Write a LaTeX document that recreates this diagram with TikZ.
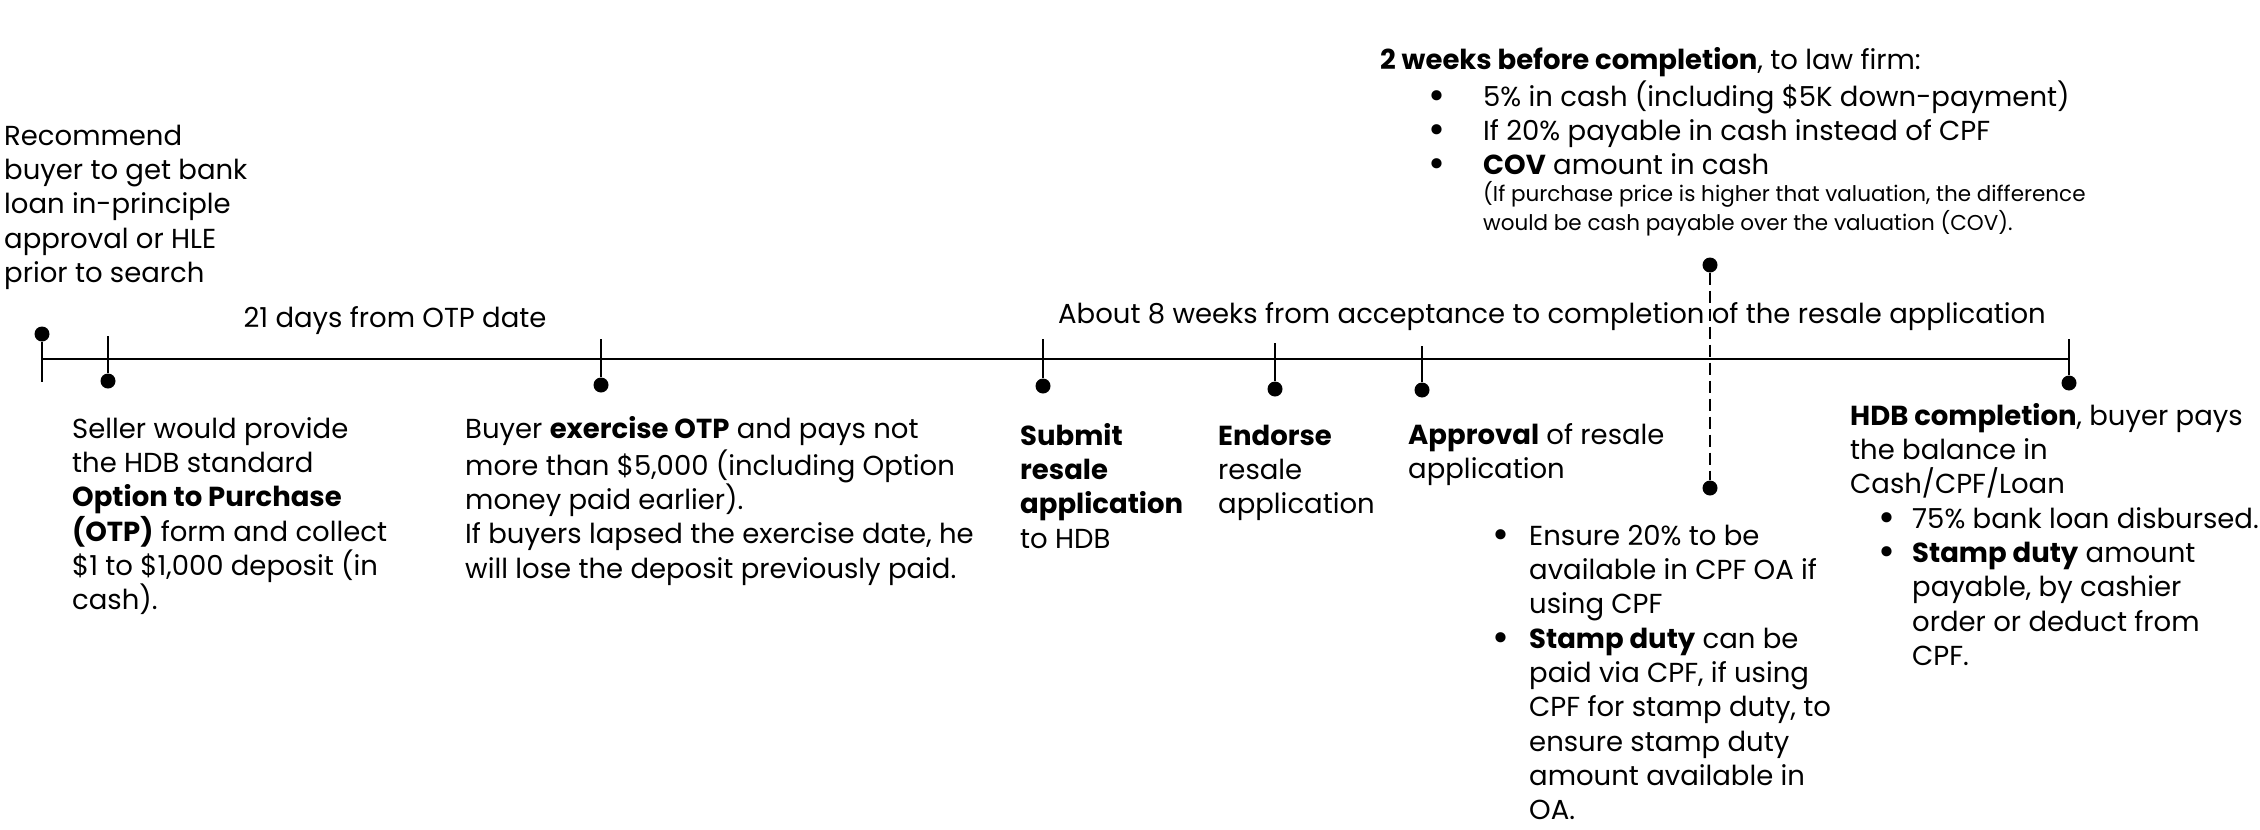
\documentclass[tikz,border=0pt]{standalone}
\usepackage{fontspec}
\usepackage{graphicx}
\setmainfont{Poppins}
\newcommand\bigtxt{\fontsize{27.5pt}{34.3pt}\selectfont}
\newcommand\smalltxt{\fontsize{21.5pt}{27pt}\selectfont}
\newcommand\bul[1]{\makebox[#1][l]{\raisebox{-3pt}{\scalebox{1.5}{\textbullet}}}}
\begin{document}
\begin{tikzpicture}[x=1pt,y=-1pt,
  dot/.style={circle,fill=black,inner sep=0pt,minimum size=15pt},
  stem/.style={line width=2pt},
  axis/.style={line width=2.4pt},
  dashline/.style={line width=2pt,dash pattern=on 12pt off 6pt},
  txt/.style={anchor=north west,inner sep=0pt,align=left,font=\bigtxt},
  lbl/.style={anchor=base,inner sep=0pt,font=\bigtxt},
  small/.style={anchor=north west,inner sep=0pt,align=left,font=\smalltxt}]
\useasboundingbox (0,0) rectangle (2260,830);

% main axis
\coordinate (L0) at (42,359);
\coordinate (L1) at (2069,359);
\draw[axis] (L0) -- (L1);

% stems
\node[dot] (d1) at (42,334) {};
\coordinate (e1) at (42,382);
\draw[stem] (d1) -- (e1);

\coordinate (t2) at (108,336);
\node[dot] (d2) at (108,381) {};
\draw[stem] (t2) -- (d2);

\coordinate (t3) at (601,339);
\node[dot] (d3) at (601,385) {};
\draw[stem] (t3) -- (d3);

\coordinate (t4) at (1043,339);
\node[dot] (d4) at (1043,386) {};
\draw[stem] (t4) -- (d4);

\coordinate (t5) at (1275,343);
\node[dot] (d5) at (1275,389) {};
\draw[stem] (t5) -- (d5);

\coordinate (t6) at (1422,346);
\node[dot] (d6) at (1422,390) {};
\draw[stem] (t6) -- (d6);

\node[dot] (d7a) at (1710,265) {};
\node[dot] (d7b) at (1710,488) {};
\draw[dashline] (d7a) -- (d7b);

\coordinate (t8) at (2069,339);
\node[dot] (d8) at (2069,383) {};
\draw[stem] (t8) -- (d8);

% labels
\node[txt] (rec) at (4,121) {\strut Recommend\\buyer to get bank\\loan in-principle\\approval or HLE\\prior to search};
\node[lbl] (days) at (395,327) {21 days from OTP date};
\node[lbl] (weeks) at (1552,323) {About 8 weeks from acceptance to completion of the resale application};

\node[txt] (seller) at (72,414) {\strut Seller would provide\\the HDB standard\\\textbf{Option to Purchase}\\\textbf{(OTP)} form and collect\\\$1 to \$1,000 deposit (in\\cash).};
\node[txt] (buyer) at (465,414) {\strut Buyer \textbf{exercise OTP} and pays not\\more than \$5,000 (including Option\\money paid earlier).\\If buyers lapsed the exercise date, he\\will lose the deposit previously paid.};
\node[txt] (submit) at (1020,421) {\strut\textbf{Submit}\\\textbf{resale}\\\textbf{application}\\to HDB};
\node[txt] (endorse) at (1218,421) {\strut\textbf{Endorse}\\resale\\application};
\node[txt] (approval) at (1408,420) {\strut\textbf{Approval} of resale\\application};
\node[txt] (apbul) at (1492,521) {\strut\bul{37pt}Ensure 20\% to be\\\hspace*{37pt}available in CPF OA if\\\hspace*{37pt}using CPF\\\bul{37pt}\textbf{Stamp duty} can be\\\hspace*{37pt}paid via CPF, if using\\\hspace*{37pt}CPF for stamp duty, to\\\hspace*{37pt}ensure stamp duty\\\hspace*{37pt}amount available in\\\hspace*{37pt}OA.};
\node[txt] (hdb) at (1850,401) {\strut\textbf{HDB completion}, buyer pays\\the balance in\\Cash/CPF/Loan\\\hspace*{28pt}\bul{34pt}75\% bank loan disbursed.\\\hspace*{28pt}\bul{34pt}\textbf{Stamp duty} amount\\\hspace*{62pt}payable, by cashier\\\hspace*{62pt}order or deduct from\\\hspace*{62pt}CPF.};
\node[txt] (law) at (1380,45) {\strut\textbf{2 weeks before completion}, to law firm:\\\hspace*{48pt}\bul{55pt}5\% in cash (including \$5K down-payment)\\\hspace*{48pt}\bul{55pt}If 20\% payable in cash instead of CPF\\\hspace*{48pt}\bul{55pt}\textbf{COV} amount in cash};
\node[small] (cov) at (1483,181) {\strut(If purchase price is higher that valuation, the difference\\would be cash payable over the valuation (COV).};
\end{tikzpicture}
\end{document}
